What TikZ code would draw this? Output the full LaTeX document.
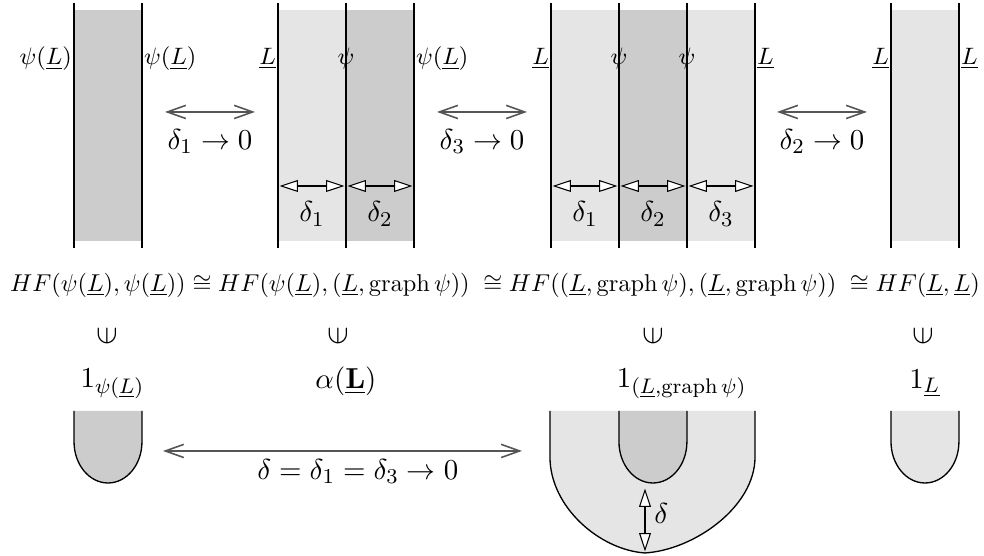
\documentclass[tikz,border=0pt]{standalone}
\usepackage{amsmath,amssymb,graphicx}
\usetikzlibrary{arrows.meta}
\definecolor{darkfill}{HTML}{CCCCCC}
\definecolor{lightfill}{HTML}{E5E5E5}
\definecolor{wire}{HTML}{555555}

\begin{document}
\begin{tikzpicture}[line join=round,
  swap/.style={wire,semithick,{Straight Barb[length=7pt,width=5pt]}-{Straight Barb[length=7pt,width=5pt]}},
  gap/.style={thin,{Triangle[open,fill=white,length=7pt,width=4.5pt]}-{Triangle[open,fill=white,length=7pt,width=4.5pt]}},
  lab/.style={font=\fontsize{9}{11}\selectfont,inner sep=0.6pt},
  big/.style={font=\fontsize{11.3}{13}\selectfont}]
  \useasboundingbox (0,0) rectangle (13.12,7.413);

  % strips
  \foreach \a/\b/\c in {0.987/1.893/darkfill,3.707/4.613/lightfill,4.613/5.52/darkfill,
      7.347/8.253/lightfill,8.253/9.16/darkfill,9.16/10.067/lightfill,11.88/12.787/lightfill}
    \fill[\c] (\a,4.2) rectangle (\b,7.28);
  \foreach \x/\n in {0.987/p1,1.893/p2,3.707/q1,4.613/q2,5.52/q3,
      7.347/r1,8.253/r2,9.16/r3,10.067/r4,11.88/s1,12.787/s2}
    \draw[line width=0.5pt] (\x,4.107) coordinate (\n b) -- (\x,7.373) coordinate (\n t);

  % labels on the lines
  \node[lab,left] (lp1) at (0.987,6.63) {$\psi(\underline{L})$};
  \node[lab,right] (lp2) at (1.893,6.63) {$\psi(\underline{L})$};
  \node[lab,left] (lq1) at (3.707,6.63) {$\underline{L}$};
  \node[lab] (lq2) at (4.613,6.63) {$\psi$};
  \node[lab,right] (lq3) at (5.52,6.63) {$\psi(\underline{L})$};
  \node[lab,left] (lr1) at (7.347,6.63) {$\underline{L}$};
  \node[lab] (lr2) at (8.253,6.63) {$\psi$};
  \node[lab] (lr3) at (9.16,6.63) {$\psi$};
  \node[lab,right] (lr4) at (10.067,6.63) {$\underline{L}$};
  \node[lab,left] (ls1) at (11.88,6.63) {$\underline{L}$};
  \node[lab,right] (ls2) at (12.787,6.63) {$\underline{L}$};

  % widths
  \foreach \a/\b/\k in {3.707/4.613/1,4.613/5.52/2,7.347/8.253/1,8.253/9.16/2,9.16/10.067/3}{
    \draw[gap] (\a+0.02,4.933) -- (\b-0.02,4.933);
    \node[big] at ({(\a+\b)/2},4.56) {$\delta_\k$};
  }

  % limits
  \foreach \a/\b/\k in {2.2/3.4/1,5.827/7.027/3,10.36/11.56/2}{
    \draw[swap] (\a,5.92) -- (\b,5.92);
    \node[big] at ({(\a+\b)/2},5.53) {$\delta_\k\to 0$};
  }

  % Floer homology
  \node[inner sep=0pt] (hf) at (6.6,3.613)
    {\resizebox{12.93cm}{!}{$HF(\psi(\underline{L}),\psi(\underline{L}))\cong HF(\psi(\underline{L}),(\underline{L},\mathrm{graph}\,\psi))\;\cong HF((\underline{L},\mathrm{graph}\,\psi),(\underline{L},\mathrm{graph}\,\psi))\;\cong HF(\underline{L},\underline{L})$}};
  \foreach \x/\n in {1.427/c1,4.507/c2,8.707/c3,12.307/c4}
    \node[font=\fontsize{13}{15}\selectfont] (\n) at (\x,2.93) {\rotatebox[origin=c]{90}{$\in$}};
  \node[big] (u1) at (1.5,2.3) {$1_{\psi(\underline{L})}$};
  \node[big] (u2) at (4.613,2.33) {$\alpha(\underline{\mathbf{L}})$};
  \node[big] (u3) at (9.09,2.3) {$1_{(\underline{L},\mathrm{graph}\,\psi)}$};
  \node[big] (u4) at (12.33,2.3) {$1_{\underline{L}}$};

  % caps
  \filldraw[fill=darkfill,line width=0.5pt] (0.987,1.933) -- (0.987,1.523)
    arc[start angle=180,end angle=360,x radius=0.453,y radius=0.55] -- (1.893,1.933);
  \filldraw[fill=lightfill,line width=0.5pt] (11.88,1.933) -- (11.88,1.523)
    arc[start angle=180,end angle=360,x radius=0.453,y radius=0.55] -- (12.787,1.933);
  \filldraw[fill=lightfill,line width=0.5pt] (7.333,1.933) -- (7.333,1.32)
    .. controls (7.333,0.65) and (8.0,0.08) .. (8.6,0.04)
    .. controls (9.25,0.08) and (10.067,0.65) .. (10.067,1.32) -- (10.067,1.933);
  \filldraw[fill=darkfill,line width=0.5pt] (8.253,1.933) -- (8.253,1.523)
    arc[start angle=180,end angle=360,x radius=0.453,y radius=0.55] -- (9.16,1.933);
  \draw[gap] (8.6,0.9) -- (8.6,0.06);
  \node[big,right] (dl) at (8.6,0.57) {$\delta$};

  \draw[swap] (2.173,1.4) coordinate (ea) -- (6.96,1.4) coordinate (eb);
  \node[big] (el) at (4.77,1.13) {$\delta=\delta_1=\delta_3\to 0$};
\end{tikzpicture}
\end{document}
